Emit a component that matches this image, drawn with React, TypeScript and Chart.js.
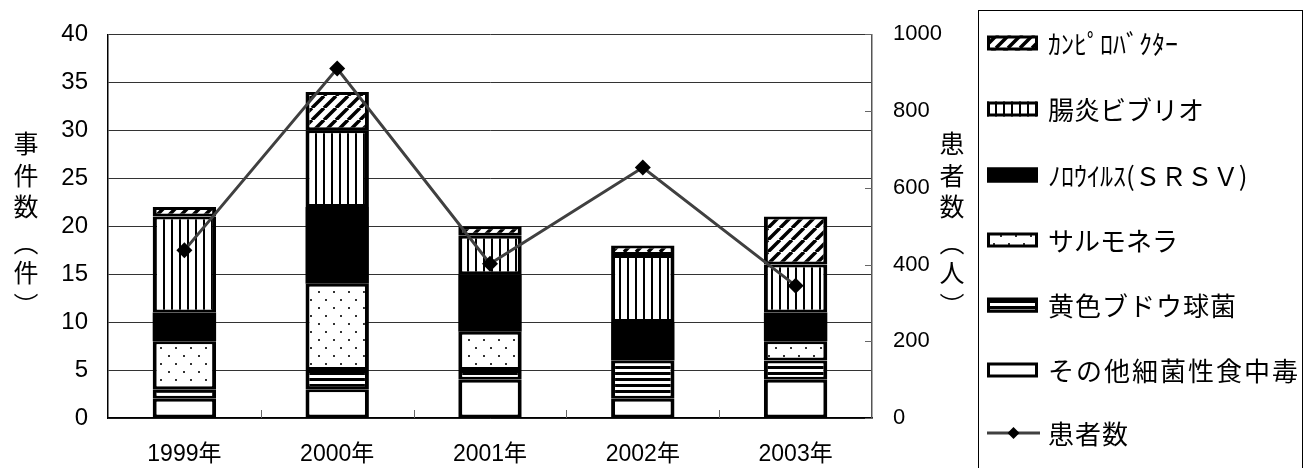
import React, { useEffect, useRef } from 'react';
import { Chart, registerables } from 'chart.js';

Chart.register(...registerables);

// ---- data ----
const years = ['1999年', '2000年', '2001年', '2002年', '2003年'];
const otherBacteria = [2, 3, 4, 2, 4];
const staphylococcus = [1, 2, 1, 4, 2];
const salmonella = [5, 9, 4, 0, 2];
const norovirus = [3, 8, 6, 4, 3];
const vibrio = [10, 8, 4, 7, 5];
const campylobacter = [1, 4, 1, 1, 5];
const patients = [437, 911, 402, 653, 345];

const seriesLabels = {
  campylobacter: 'ｶﾝﾋﾟﾛﾊﾞｸﾀｰ',
  vibrio: '腸炎ビブリオ',
  norovirus: 'ﾉﾛｳｲﾙｽ(ＳＲＳＶ)',
  salmonella: 'サルモネラ',
  staphylococcus: '黄色ブドウ球菌',
  otherBacteria: 'その他細菌性食中毒',
  patients: '患者数',
};
const leftTitle = ['事', '件', '数', '︵', '件', '︶'];
const rightTitle = ['患', '者', '数', '︵', '人', '︶'];
const caseAxis = { min: 0, max: 40, step: 5 };
const patientAxis = { min: 0, max: 1000, step: 200 };

const CJK = "'Noto Sans CJK JP', sans-serif";
const NUM = "'Liberation Sans', Arial, 'Noto Sans CJK JP', sans-serif";

// legend letter spacing per legend row (top to bottom)
const legendSpacing = [0, 0, 0, 0, 1, 2, 1];

function makePattern(kind: string): CanvasPattern | string {
  const c = document.createElement('canvas');
  const g = c.getContext('2d')!;
  if (kind === 'diag') {
    const s = 12;
    c.width = s; c.height = s;
    g.fillStyle = '#fff'; g.fillRect(0, 0, s, s);
    g.strokeStyle = '#000'; g.lineWidth = 3.5;
    g.beginPath();
    for (const x0 of [-s, 0, s]) {
      g.moveTo(x0, s); g.lineTo(x0 + s, 0);
    }
    g.stroke();
  } else if (kind === 'vert') {
    c.width = 8; c.height = 8;
    g.fillStyle = '#fff'; g.fillRect(0, 0, 8, 8);
    g.fillStyle = '#000'; g.fillRect(3, 0, 2, 8);
  } else if (kind === 'dots') {
    c.width = 15; c.height = 16;
    g.fillStyle = '#fff'; g.fillRect(0, 0, 15, 16);
    g.fillStyle = '#333';
    g.fillRect(3, 3, 2, 2);
    g.fillRect(10, 11, 2, 2);
  } else if (kind === 'horiz') {
    c.width = 6; c.height = 6;
    g.fillStyle = '#fff'; g.fillRect(0, 0, 6, 6);
    g.fillStyle = '#000'; g.fillRect(0, 0, 6, 3);
  } else if (kind === 'solid') {
    return '#000';
  } else {
    return '#fff';
  }
  return g.createPattern(c, 'repeat')!;
}

const decorPlugin = {
  id: 'decor',
  afterDraw(chart: any) {
    const ctx: CanvasRenderingContext2D = chart.ctx;
    const area = chart.chartArea;
    const xs = chart.scales.x;
    const y1 = chart.scales.y1;
    ctx.save();

    // inward tick marks on x axis (category boundaries)
    ctx.strokeStyle = '#666';
    ctx.lineWidth = 1;
    const n = years.length;
    for (let i = 0; i < n - 1; i++) {
      const xb = Math.round((xs.getPixelForValue(i) + xs.getPixelForValue(i + 1)) / 2) + 0.5;
      ctx.beginPath();
      ctx.moveTo(xb, area.bottom);
      ctx.lineTo(xb, area.bottom - 8);
      ctx.stroke();
    }
    // inward tick marks on right axis
    for (let v = patientAxis.min; v <= patientAxis.max; v += patientAxis.step) {
      const yy = Math.round(y1.getPixelForValue(v)) + 0.5;
      ctx.beginPath();
      ctx.moveTo(area.right - 7, yy);
      ctx.lineTo(area.right, yy);
      ctx.stroke();
    }

    // vertical axis titles
    ctx.fillStyle = '#000';
    ctx.font = `25px ${CJK}`;
    ctx.textAlign = 'center';
    ctx.textBaseline = 'middle';
    const ys = [143, 175, 206, 242, 272, 305];
    leftTitle.forEach((ch, i) => ctx.fillText(ch, 26, ys[i]));
    rightTitle.forEach((ch, i) => ctx.fillText(ch, 952, ys[i]));

    // legend box
    const lx = 978, ly = 10, lr = 1302;
    ctx.strokeStyle = '#000';
    ctx.lineWidth = 1;
    ctx.strokeRect(lx + 0.5, ly + 0.5, lr - lx, 500);

    const datasets = chart.data.datasets.slice().reverse();
    const rowY = [43, 109, 175, 240, 305, 370, 433];
    const swX = 987, swW = 51, swH = 15;
    datasets.forEach((ds: any, i: number) => {
      const cy = rowY[i];
      if (ds.type === 'line') {
        ctx.strokeStyle = ds.borderColor;
        ctx.lineWidth = 3;
        ctx.beginPath();
        ctx.moveTo(swX, cy);
        ctx.lineTo(swX + swW + 2, cy);
        ctx.stroke();
        ctx.fillStyle = '#000';
        const cx = swX + swW / 2 + 1, r = 6;
        ctx.beginPath();
        ctx.moveTo(cx, cy - r); ctx.lineTo(cx + r, cy); ctx.lineTo(cx, cy + r); ctx.lineTo(cx - r, cy);
        ctx.closePath();
        ctx.fill();
      } else {
        ctx.fillStyle = ds.backgroundColor;
        ctx.fillRect(swX, cy - swH / 2, swW, swH);
        ctx.strokeStyle = '#000';
        ctx.lineWidth = 3;
        ctx.strokeRect(swX + 1.5, cy - swH / 2 + 1.5, swW - 3, swH - 3);
      }
      ctx.fillStyle = '#000';
      ctx.font = `26px ${CJK}`;
      (ctx as any).letterSpacing = `${legendSpacing[i]}px`;
      ctx.textAlign = 'left';
      ctx.textBaseline = 'middle';
      ctx.fillText(ds.label, 1048, cy + 1);
      (ctx as any).letterSpacing = '0px';
    });
    ctx.restore();
  },
};

export default function App() {
  const ref = useRef<HTMLCanvasElement | null>(null);
  useEffect(() => {
    if (!ref.current) return;
    const border = { top: 3, bottom: 3, left: 4, right: 4 };
    const bar = (label: string, data: number[], kind: string) => ({
      type: 'bar' as const,
      label,
      data,
      backgroundColor: makePattern(kind),
      borderColor: '#000',
      borderWidth: kind === 'solid' ? 0 : border,
      borderSkipped: false,
      yAxisID: 'y',
      stack: 's',
      order: 1,
      categoryPercentage: 1,
      barPercentage: 0.415,
    });
    const chart = new Chart(ref.current, {
      type: 'bar',
      data: {
        labels: years,
        datasets: [
          {
            type: 'line',
            label: seriesLabels.patients,
            data: patients,
            yAxisID: 'y1',
            borderColor: '#404040',
            borderWidth: 3,
            pointStyle: 'rectRot',
            pointRadius: 8,
            pointBackgroundColor: '#000',
            pointBorderColor: '#000',
            pointBorderWidth: 0,
            order: 0,
          } as any,
          bar(seriesLabels.otherBacteria, otherBacteria, 'white'),
          bar(seriesLabels.staphylococcus, staphylococcus, 'horiz'),
          bar(seriesLabels.salmonella, salmonella, 'dots'),
          bar(seriesLabels.norovirus, norovirus, 'solid'),
          bar(seriesLabels.vibrio, vibrio, 'vert'),
          bar(seriesLabels.campylobacter, campylobacter, 'diag'),
        ],
      },
      options: {
        animation: false,
        responsive: true,
        maintainAspectRatio: false,
        layout: { padding: { top: 33, right: 338, bottom: 0, left: 0 } },
        plugins: { legend: { display: false }, tooltip: { enabled: false } },
        scales: {
          x: {
            stacked: true,
            grid: { display: false, drawTicks: false },
            border: { color: '#000', width: 1.5 },
            ticks: {
              color: '#000',
              font: { family: NUM, size: 23 },
              padding: 23,
              maxRotation: 0,
            },
            afterFit: (s: any) => { s.height = 50; },
          },
          y: {
            stacked: true,
            min: caseAxis.min,
            max: caseAxis.max,
            ticks: {
              stepSize: caseAxis.step, color: '#000', font: { family: NUM, size: 24 }, padding: 20,
              callback: (v: any) => String(v),
            },
            grid: { color: '#333', lineWidth: 1, drawTicks: false },
            border: { color: '#000', width: 1.5 },
            afterFit: (s: any) => { s.width = 108; },
          },
          y1: {
            position: 'right',
            min: patientAxis.min,
            max: patientAxis.max,
            ticks: {
              stepSize: patientAxis.step, color: '#000', font: { family: NUM, size: 22 }, padding: 21,
              callback: (v: any) => String(v),
            },
            grid: { drawOnChartArea: false, drawTicks: false },
            border: { color: '#555', width: 1.5 },
            afterFit: (s: any) => { s.width = 106; },
          },
        },
      },
      plugins: [decorPlugin],
    });
    return () => chart.destroy();
  }, []);
  return (
    <div style={{ position: 'absolute', left: 0, top: 0, width: 1316, height: 468, background: '#fff' }}>
      <canvas ref={ref} />
    </div>
  );
}
